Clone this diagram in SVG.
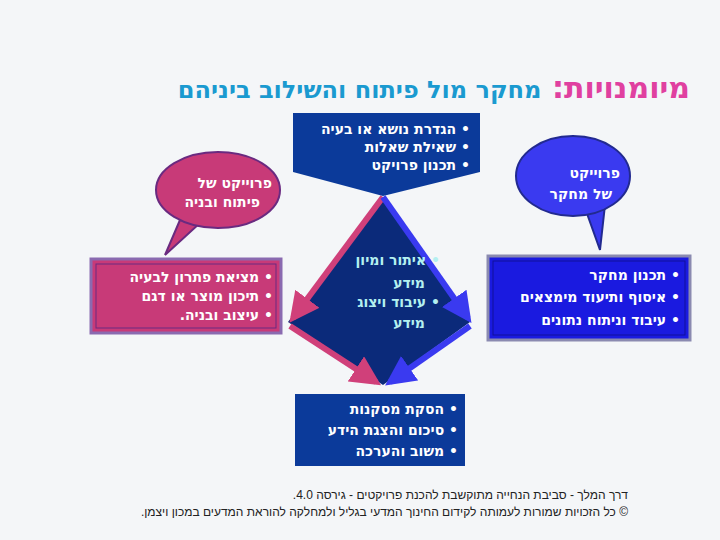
<svg xmlns="http://www.w3.org/2000/svg" width="720" height="540" viewBox="0 0 720 540">
<style>
.t{font-family:"DejaVu Sans","Liberation Sans",sans-serif;font-weight:bold;fill:#fff;direction:rtl}
.c{fill:#b4f0f0}
.f{font-family:"Liberation Sans",sans-serif;fill:#222;font-size:12px;direction:rtl}
</style>
<defs>
<marker id="ap" viewBox="0 0 10 10" refX="8" refY="5" markerWidth="5" markerHeight="5" orient="auto"><path d="M0,0L10,5L0,10z" fill="#d0407a"/></marker>
<marker id="ab" viewBox="0 0 10 10" refX="8" refY="5" markerWidth="5" markerHeight="5" orient="auto"><path d="M0,0L10,5L0,10z" fill="#3a3af0"/></marker>
</defs>
<rect width="720" height="540" fill="#f4f6f8"/>
<text x="690" y="98" font-family="DejaVu Sans,sans-serif" font-weight="bold" direction="rtl"><tspan font-size="30" fill="#e040a0">מיומנויות: </tspan><tspan font-size="24" fill="#1a9ad0">מחקר מול פיתוח והשילוב ביניהם</tspan></text>
<g id="connectors">
<path d="M383,197 L383,385 M383,197 L292,320 M383,197 L472,320" fill="none" stroke="none"/>
<polygon points="383,197 470,322 383,385 288,322" fill="#0b2a7a"/>
<path d="M383,197 L293,318" stroke="#d0407a" stroke-width="6" marker-end="url(#ap)"/>
<path d="M383,197 L468,318" stroke="#3a3af0" stroke-width="6" marker-end="url(#ab)"/>
<path d="M290,326 L376,382" stroke="#d0407a" stroke-width="6" marker-end="url(#ap)"/>
<path d="M470,326 L390,382" stroke="#3a3af0" stroke-width="6" marker-end="url(#ab)"/>
</g>
<g id="top">
<path d="M293,113 H480 V172 L383,196 L293,172 Z" fill="#0b3a9a"/>
<text class="t" font-size="14"><tspan x="470" y="134">• הגדרת נושא או בעיה</tspan><tspan x="470" y="152">• שאילת שאלות</tspan><tspan x="470" y="170">• תכנון פרויקט</tspan></text>
</g>
<g id="mid">
<text class="t c" font-size="14" style="fill:#b4f0f0"><tspan x="440" y="265">• איתור ומיון</tspan><tspan x="425" y="288">מידע</tspan><tspan x="440" y="307">• עיבוד ויצוג</tspan><tspan x="425" y="328">מידע</tspan></text>
</g>
<g id="left-bubble">
<path d="M180,220 L165,255 L200,223 Z" fill="#c83a78" stroke="#6a2a80" stroke-width="2"/>
<ellipse cx="218" cy="190" rx="62" ry="38" fill="#c83a78" stroke="#6a2a80" stroke-width="2"/>
<text class="t" font-size="14"><tspan x="272" y="188">פרוייקט של</tspan><tspan x="260" y="207">פיתוח ובניה</tspan></text>
</g>
<g id="right-bubble">
<path d="M585,208 L600,250 L605,205 Z" fill="#3a3af0" stroke="#222a90" stroke-width="2"/>
<ellipse cx="573" cy="176" rx="57" ry="40" fill="#3a3af0" stroke="#222a90" stroke-width="2"/>
<text class="t" font-size="14"><tspan x="620" y="178">פרוייקט</tspan><tspan x="612" y="199">של מחקר</tspan></text>
</g>
<g id="left-box">
<rect x="91" y="259" width="190" height="74" fill="#c83a78" stroke="#8a6ab0" stroke-width="3"/>
<rect x="96" y="264" width="180" height="64" fill="none" stroke="#6a2a80" stroke-width="1"/>
<text class="t" font-size="14"><tspan x="273" y="282">• מציאת פתרון לבעיה</tspan><tspan x="273" y="301">• תיכון מוצר או דגם</tspan><tspan x="273" y="320">• עיצוב ובניה.</tspan></text>
</g>
<g id="right-box">
<rect x="488" y="256" width="202" height="84" fill="#1a1ae0" stroke="#8a8ab0" stroke-width="3"/>
<rect x="493" y="261" width="192" height="74" fill="none" stroke="#10109a" stroke-width="1"/>
<text class="t" font-size="14"><tspan x="680" y="280">• תכנון מחקר</tspan><tspan x="680" y="302">• איסוף ותיעוד מימצאים</tspan><tspan x="680" y="325">• עיבוד וניתוח נתונים</tspan></text>
</g>
<g id="bottom">
<rect x="295" y="394" width="170" height="72" fill="#0b3a9a"/>
<text class="t" font-size="14"><tspan x="458" y="414">• הסקת מסקנות</tspan><tspan x="458" y="435">• סיכום והצגת הידע</tspan><tspan x="458" y="456">• משוב והערכה</tspan></text>
</g>
<text class="f" x="628" y="499">דרך המלך - סביבת הנחייה מתוקשבת להכנת פרויקטים - גירסה 4.0.</text>
<text class="f" x="628" y="516">© כל הזכויות שמורות לעמותה לקידום החינוך המדעי בגליל ולמחלקה להוראת המדעים במכון ויצמן.</text>
</svg>
